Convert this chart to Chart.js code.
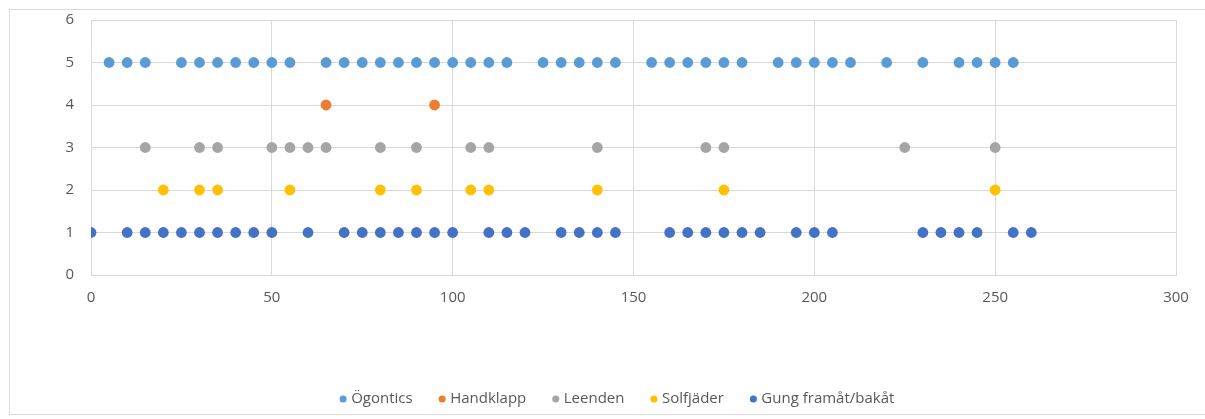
<!DOCTYPE html>
<html>
<head>
<meta charset="utf-8">
<script src="https://cdn.jsdelivr.net/npm/chart.js@4/dist/chart.umd.min.js"></script>
<style>
  html, body { margin: 0; padding: 0; background: #ffffff; }
  #wrap { position: relative; width: 1205px; height: 419px; overflow: hidden; }
  #chart { position: absolute; left: 0; top: 0; }
  #frame {
    position: absolute; left: 9px; top: 9px; width: 1210px; height: 406px;
    border: 1px solid #d9d9d9; box-sizing: border-box; pointer-events: none;
  }
</style>
</head>
<body>
<div id="wrap">
  <canvas id="chart" width="1205" height="419"></canvas>
  <div id="frame"></div>
</div>
<script>
// Time points (x) at which each behaviour was observed; each behaviour sits on its own row (y).
const ogonticsX = [5, 10, 15, 25, 30, 35, 40, 45, 50, 55, 65, 70, 75, 80, 85, 90, 95, 100, 105, 110, 115,
  125, 130, 135, 140, 145, 155, 160, 165, 170, 175, 180, 190, 195, 200, 205, 210, 220, 230, 240, 245, 250, 255];
const handklappX = [65, 95];
const leendenX = [15, 30, 35, 50, 55, 60, 65, 80, 90, 105, 110, 140, 170, 175, 225, 250];
const solfjaderX = [20, 30, 35, 55, 80, 90, 105, 110, 140, 175, 250];
const gungX = [0, 10, 15, 20, 25, 30, 35, 40, 45, 50, 60, 70, 75, 80, 85, 90, 95, 100, 110, 115, 120,
  130, 135, 140, 145, 160, 165, 170, 175, 180, 185, 195, 200, 205, 230, 235, 240, 245, 255, 260];

const seriesNames = ['Ögontics', 'Handklapp', 'Leenden', 'Solfjäder', 'Gung framåt/bakåt'];
const seriesRows = [5, 4, 3, 2, 1];
const seriesX = [ogonticsX, handklappX, leendenX, solfjaderX, gungX];
const seriesColors = ['#5b9bd5', '#ed7d31', '#a5a5a5', '#ffc000', '#4472c4'];

const xTicks = [0, 50, 100, 150, 200, 250, 300];
const yTicks = [0, 1, 2, 3, 4, 5, 6];

Chart.defaults.font.family = '"Open Sans", "DejaVu Sans", sans-serif';
Chart.defaults.font.size = 15;
Chart.defaults.color = '#595959';

const datasets = seriesNames.map((name, i) => ({
  label: name,
  data: seriesX[i].map(x => ({ x: x, y: seriesRows[i] })),
  backgroundColor: seriesColors[i],
  borderColor: seriesColors[i],
  borderWidth: 0,
  pointRadius: 5.4,
  pointHoverRadius: 5.4,
  pointStyle: 'circle',
  showLine: false
}));

const gridColor = '#d9d9d9';

new Chart(document.getElementById('chart'), {
  type: 'scatter',
  data: { datasets },
  options: {
    responsive: false,
    animation: false,
    events: [],
    layout: { padding: { left: 61, right: 29, top: 20, bottom: 2.5 } },
    plugins: {
      tooltip: { enabled: false },
      legend: {
        position: 'bottom',
        align: 'center',
        labels: {
          usePointStyle: true,
          pointStyle: 'circle',
          boxWidth: 1,
          boxHeight: 5,
          padding: 29,
          color: '#595959',
          font: { size: 15 }
        }
      }
    },
    scales: {
      x: {
        type: 'linear',
        min: xTicks[0],
        max: xTicks[xTicks.length - 1],
        afterBuildTicks: (scale) => { scale.ticks = xTicks.map(v => ({ value: v })); },
        afterFit: (scale) => { scale.height = 87.5; },
        grid: { color: gridColor, lineWidth: 1, drawTicks: false },
        border: { color: gridColor, width: 1 },
        ticks: { padding: 14, color: '#595959', font: { size: 15 }, maxRotation: 0 }
      },
      y: {
        type: 'linear',
        min: yTicks[0],
        max: yTicks[yTicks.length - 1],
        afterBuildTicks: (scale) => { scale.ticks = yTicks.map(v => ({ value: v })); },
        afterFit: (scale) => {
          scale.width = 30;
          // the plot edges are set by the layout padding alone
          scale.paddingTop = 0;
          scale.paddingBottom = 0;
        },
        grid: { color: gridColor, lineWidth: 1, drawTicks: false },
        border: { color: gridColor, width: 1 },
        ticks: { padding: 17, color: '#595959', font: { size: 15 } }
      }
    }
  }
});
</script>
</body>
</html>
